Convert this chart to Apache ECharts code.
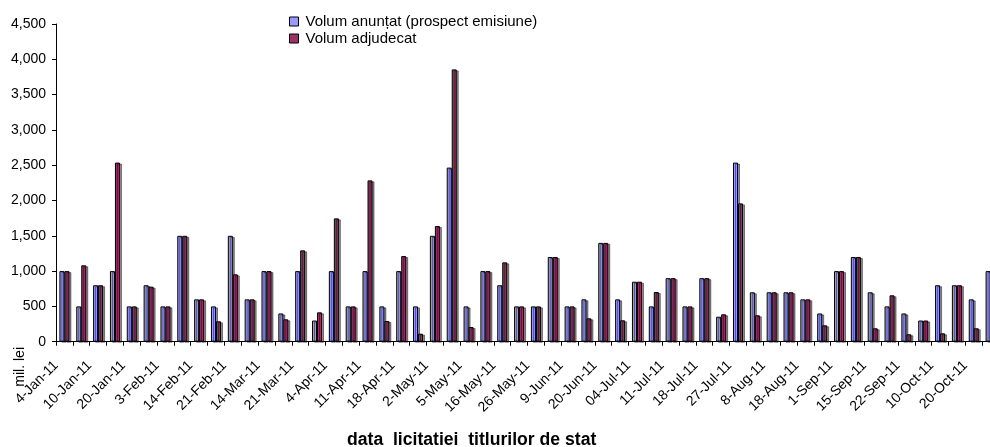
<!DOCTYPE html>
<html>
<head>
<meta charset="utf-8">
<script src="https://cdn.jsdelivr.net/npm/echarts@6/dist/echarts.min.js"></script>
<style>html,body{margin:0;padding:0;background:#fff;overflow:hidden;}#c{width:990px;height:447px;}</style>
</head>
<body>
<div id="c"></div>
<script>
const categories = ['4-Jan-11','6-Jan-11','10-Jan-11','13-Jan-11','20-Jan-11','27-Jan-11','3-Feb-11','7-Feb-11','14-Feb-11','17-Feb-11',
'21-Feb-11','28-Feb-11','14-Mar-11','17-Mar-11','21-Mar-11','28-Mar-11','4-Apr-11','7-Apr-11','11-Apr-11','14-Apr-11',
'18-Apr-11','21-Apr-11','2-May-11','3-May-11','5-May-11','9-May-11','16-May-11','19-May-11','26-May-11','30-May-11',
'9-Jun-11','13-Jun-11','20-Jun-11','27-Jun-11','04-Jul-11','07-Jul-11','11-Jul-11','14-Jul-11','18-Jul-11','21-Jul-11',
'27-Jul-11','1-Aug-11','8-Aug-11','11-Aug-11','18-Aug-11','25-Aug-11','1-Sep-11','8-Sep-11','15-Sep-11','19-Sep-11',
'22-Sep-11','26-Sep-11','10-Oct-11','13-Oct-11','20-Oct-11','24-Oct-11'];
const anuntat = [1000,500,800,1000,500,800,500,1500,600,500,
1500,600,1000,400,1000,300,1000,500,1000,500,
1000,500,1500,2466,500,1000,800,500,500,1200,
500,600,1400,600,850,500,900,500,900,354,
2537,700,700,700,600,400,1000,1200,700,500,
400,300,800,800,600,1000];
const adjudecat = [1000,1082,800,2537,500,779,500,1500,600,289,
954,600,1000,317,1294,416,1747,500,2285,293,
1213,113,1638,3857,208,1000,1124,500,500,1200,
500,331,1400,303,850,704,900,500,900,388,
1959,374,700,700,600,232,1000,1200,190,657,
105,300,119,800,190,1000];
const yTicks = [0,500,1000,1500,2000,2500,3000,3500,4000,4500];

const FONT = 'Liberation Sans, Arial, sans-serif';
const chart = echarts.init(document.getElementById('c'), null, {renderer:'canvas'});
const barStyle = (color) => ({
  color: color,
  borderColor: '#000',
  borderWidth: 1,
  shadowColor: 'rgba(0,0,0,0.45)',
  shadowOffsetX: 2,
  shadowOffsetY: 1,
  shadowBlur: 0
});
chart.setOption({
  animation: false,
  backgroundColor: '#fff',
  textStyle: {fontFamily: FONT},
  legend: {
    orient: 'vertical',
    left: 284, top: 9,
    itemWidth: 9, itemHeight: 9, itemGap: 2,
    icon: 'rect',
    textStyle: {fontFamily: FONT, fontSize: 15, lineHeight: 15, color: '#000', padding: [0,0,0,2]},
    itemStyle: {borderColor: '#000', borderWidth: 1, shadowBlur: 0, shadowOffsetX: 0, shadowOffsetY: 0},
    data: ['Volum anunțat (prospect emisiune)', 'Volum adjudecat']
  },
  grid: {left: 56, width: 943, top: 24, bottom: 105.3, containLabel: false, outerBoundsMode: 'none'},
  xAxis: {
    type: 'category',
    data: categories,
    axisLine: {lineStyle: {color: '#000', width: 1}},
    axisTick: {show: true, interval: 0, length: 4, lineStyle: {color: '#000'}},
    axisLabel: {interval: 1, rotate: 45, fontSize: 14, color: '#000', fontFamily: FONT, margin: 13,
      padding: [0, 12, 0, 0]},
    splitLine: {show: false}
  },
  yAxis: {
    type: 'value',
    min: yTicks[0], max: yTicks[yTicks.length-1], interval: 500,
    axisLine: {show: true, lineStyle: {color: '#000', width: 1}},
    axisTick: {show: true, length: 4, lineStyle: {color: '#000'}},
    axisLabel: {color: '#000', fontFamily: FONT, fontSize: 14, margin: 10,
      formatter: v => '{a|' + v.toLocaleString('en-US') + '}',
      rich: {a: {fontSize: 14, fontFamily: FONT, color: '#000'}}},
    splitLine: {show: false}
  },
  series: [
    {name: 'Volum anunțat (prospect emisiune)', type: 'bar', data: anuntat, barWidth: 5, barGap: '0%',
     itemStyle: barStyle('#9999FF')},
    {name: 'Volum adjudecat', type: 'bar', data: adjudecat, barWidth: 5, barGap: '0%',
     itemStyle: barStyle('#993366')}
  ],
  graphic: [
    {type: 'text', left: 13, top: 347, rotation: Math.PI/2,
     style: {text: 'mil. lei', font: '14px ' + FONT, fill: '#000'}},
    {type: 'text', left: 347, top: 431,
     style: {text: 'data  licitatiei  titlurilor de stat', font: 'bold 17.6px ' + FONT, fill: '#000'}}
  ]
});
</script>
</body>
</html>
